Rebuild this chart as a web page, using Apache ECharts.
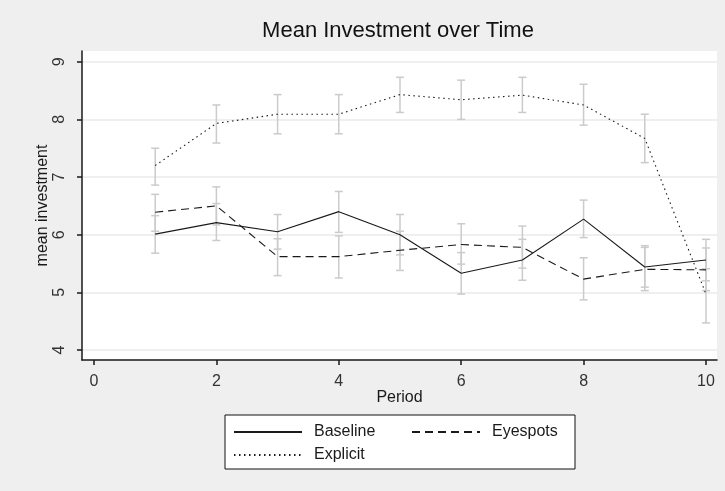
<!DOCTYPE html>
<html>
<head>
<meta charset="utf-8">
<title>Mean Investment over Time</title>
<script src="https://cdn.jsdelivr.net/npm/echarts@6/dist/echarts.min.js"></script>
<style>
  html, body { margin: 0; padding: 0; background: #efefef; }
  #chart { width: 725px; height: 491px; }
</style>
</head>
<body>
<div id="chart"></div>
<script>
// Periods and treatment means with 95% confidence bounds
const periods = [1, 2, 3, 4, 5, 6, 7, 8, 9, 10];

const baseline   = [6.01, 6.21, 6.05, 6.40, 6.00, 5.33, 5.56, 6.27, 5.44, 5.56];
const baselineLo = [5.68, 5.90, 5.75, 6.04, 5.65, 4.97, 5.21, 5.95, 5.09, 5.20];
const baselineHi = [6.33, 6.54, 6.35, 6.75, 6.35, 5.69, 5.92, 6.60, 5.78, 5.92];

const eyespots   = [6.39, 6.50, 5.62, 5.62, 5.73, 5.83, 5.78, 5.23, 5.40, 5.39];
const eyespotsLo = [6.06, 6.17, 5.29, 5.25, 5.38, 5.49, 5.42, 4.87, 5.03, 5.03];
const eyespotsHi = [6.70, 6.83, 5.93, 5.98, 6.06, 6.19, 6.15, 5.60, 5.81, 5.77];

const explicit   = [7.20, 7.93, 8.09, 8.09, 8.43, 8.34, 8.42, 8.25, 7.67, 4.97];
const explicitLo = [6.86, 7.59, 7.75, 7.75, 8.12, 8.00, 8.12, 7.90, 7.25, 4.47];
const explicitHi = [7.50, 8.25, 8.43, 8.43, 8.73, 8.68, 8.73, 8.61, 8.09, 5.41];

const xTicks = [0, 2, 4, 6, 8, 10];
const yTicks = [4, 5, 6, 7, 8, 9];

const FONT = '"Liberation Sans", Arial, Helvetica, sans-serif';
const INK = '#1a1a1a';

function pairs(ys) { return periods.map((p, i) => [p, ys[i]]); }
function bounds(lo, hi) { return periods.map((p, i) => [p, lo[i], hi[i]]); }

// Range cap: vertical segment with short horizontal caps at both ends
function renderCap(params, api) {
  const x = api.value(0);
  const pLo = api.coord([x, api.value(1)]);
  const pHi = api.coord([x, api.value(2)]);
  const w = 4;
  const style = { stroke: '#cbcbcb', lineWidth: 1.5 };
  return {
    type: 'group',
    children: [
      { type: 'line', shape: { x1: pLo[0], y1: pLo[1], x2: pHi[0], y2: pHi[1] }, style },
      { type: 'line', shape: { x1: pLo[0] - w, y1: pLo[1], x2: pLo[0] + w, y2: pLo[1] }, style },
      { type: 'line', shape: { x1: pHi[0] - w, y1: pHi[1], x2: pHi[0] + w, y2: pHi[1] }, style }
    ]
  };
}

function capSeries(name, lo, hi) {
  return {
    name: name,
    type: 'custom',
    renderItem: renderCap,
    data: bounds(lo, hi),
    encode: { x: 0, y: [1, 2] },
    silent: true,
    z: 2
  };
}

function lineSeries(name, ys, dash) {
  return {
    name: name,
    type: 'line',
    data: pairs(ys),
    symbol: 'circle',
    showSymbol: false,
    silent: true,
    z: 3,
    lineStyle: { color: INK, width: 1.1, type: dash },
    itemStyle: { color: INK }
  };
}

const chart = echarts.init(document.getElementById('chart'), null, { renderer: 'canvas' });

chart.setOption({
  backgroundColor: '#efefef',
  animation: false,
  title: {
    text: 'Mean Investment over Time',
    left: 398,
    top: 20,
    textAlign: 'center',
    padding: 0,
    textStyle: { fontFamily: FONT, fontSize: 22, fontWeight: 'normal', color: '#111' }
  },
  grid: {
    left: 82, right: 8, top: 51, bottom: 131,
    show: true, backgroundColor: '#ffffff', borderWidth: 0
  },
  xAxis: {
    type: 'value',
    min: -0.196, max: 10.18,
    name: 'Period',
    nameLocation: 'middle',
    nameGap: 30,
    nameMoveOverlap: false,
    nameTextStyle: { fontFamily: FONT, fontSize: 16, color: INK },
    axisLine: { show: true, onZero: false, lineStyle: { color: INK, width: 1.5 } },
    axisTick: { show: true, length: 5, customValues: xTicks, lineStyle: { color: INK, width: 1.5 } },
    axisLabel: { customValues: xTicks, margin: 14, fontFamily: FONT, fontSize: 16, color: '#333' },
    splitLine: { show: false }
  },
  yAxis: {
    type: 'value',
    min: 3.827, max: 9.186,
    name: 'mean investment',
    nameLocation: 'middle',
    nameRotate: 90,
    nameGap: 31,
    nameMoveOverlap: false,
    nameTextStyle: { fontFamily: FONT, fontSize: 16, color: INK },
    axisLine: { show: true, onZero: false, lineStyle: { color: INK, width: 1.5 } },
    axisTick: { show: true, length: 5, customValues: yTicks, lineStyle: { color: INK, width: 1.5 } },
    axisLabel: { customValues: yTicks, rotate: 90, margin: 14, fontFamily: FONT, fontSize: 16, color: '#333' },
    splitLine: { show: true, lineStyle: { color: '#eaeaea', width: 1.5 } }
  },
  legend: {
    data: [
      { name: 'Baseline', textStyle: { width: 92 } },
      { name: 'Eyespots', textStyle: { width: 75 } },
      { name: 'Explicit', textStyle: { width: 92 } }
    ],
    orient: 'horizontal',
    left: 225,
    top: 415,
    width: 334,
    padding: [8, 8, 5, 8],
    itemGap: 5,
    itemWidth: 68,
    itemHeight: 14,
    itemStyle: { opacity: 0 },
    backgroundColor: '#ffffff',
    borderColor: '#111',
    borderWidth: 1,
    borderRadius: 0,
    selectedMode: false,
    textStyle: {
      fontFamily: FONT, fontSize: 16, color: INK,
      lineHeight: 18, padding: [0, 0, 0, 7]
    }
  },
  series: [
    capSeries('Baseline range', baselineLo, baselineHi),
    capSeries('Eyespots range', eyespotsLo, eyespotsHi),
    capSeries('Explicit range', explicitLo, explicitHi),
    lineSeries('Baseline', baseline, 'solid'),
    lineSeries('Eyespots', eyespots, [8, 5]),
    lineSeries('Explicit', explicit, [1.5, 3.5])
  ]
});
</script>
</body>
</html>
